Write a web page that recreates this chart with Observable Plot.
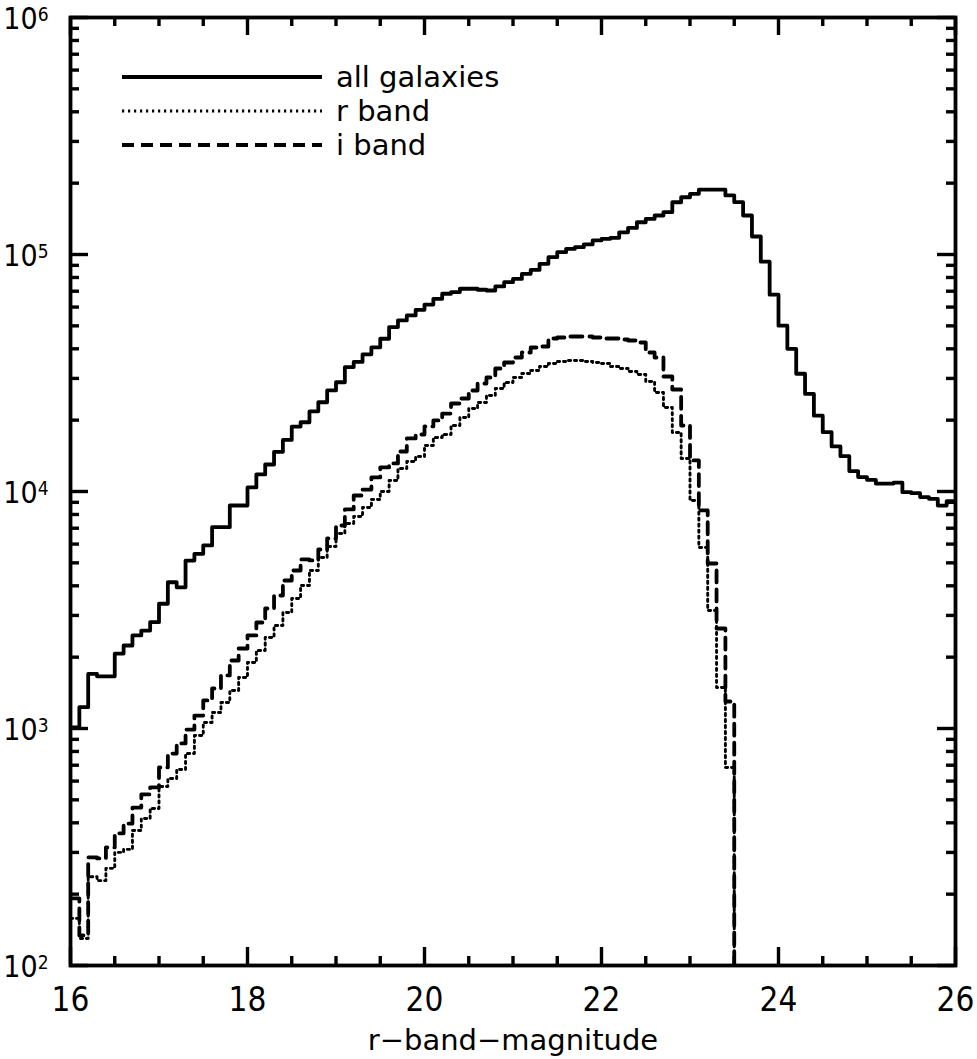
<!DOCTYPE html>
<html>
<head>
<meta charset="utf-8">
<script src="https://cdn.jsdelivr.net/npm/d3@7"></script>
<script src="https://cdn.jsdelivr.net/npm/@observablehq/plot@0.6"></script>
<style>
  html, body { margin: 0; padding: 0; background: #fff; }
  #chart svg { display: block; }
</style>
</head>
<body>
<div id="chart"></div>
<script>
// Galaxy counts per 0.1 mag bin, starting at r = 16.0
const binStart = 16.0;
const binWidth = 0.1;

const allGalaxies = [
  1010, 1230, 1700, 1660, 1660, 2070, 2240, 2470, 2590, 2810,
  3360, 4140, 3940, 5110, 5460, 5920, 7070, 7070, 8730, 8730,
  10400, 11800, 13000, 14700, 16500, 18800, 19600, 21800, 23800, 26700,
  28900, 33500, 35200, 37900, 40600, 44100, 49400, 52700, 55300, 58400,
  61500, 65000, 68300, 69400, 71700, 71700, 71000, 70500, 73300, 76400,
  78900, 82900, 86100, 91300, 97400, 102300, 105700, 107400, 110300, 114600,
  116500, 117600, 124100, 129500, 136800, 141300, 146100, 150900, 166100, 174400,
  180300, 188000, 188000, 188000, 177500, 166300, 146100, 119100, 93300, 67700,
  50100, 40000, 31400, 25800, 20900, 17800, 15500, 14100, 12200, 11500,
  11200, 10800, 10800, 10900, 9930, 9840, 9470, 9310, 8720, 9100
];

const rBand = [
  158, 130, 237, 228, 257, 300, 309, 371, 417, 460,
  569, 615, 671, 784, 934, 1060, 1168, 1288, 1447, 1642,
  1899, 2134, 2421, 2720, 3087, 3536, 4012, 4642, 5267, 5861,
  6648, 7328, 7843, 8561, 9252, 10000, 11130, 12500, 13380, 14050,
  15640, 16900, 17400, 18990, 20520, 22400, 23740, 25420, 27200, 28840,
  30270, 31480, 32400, 33690, 34680, 35360, 35710, 35710, 35360, 35020,
  34680, 33690, 33040, 32090, 31170, 29120, 26170, 22620, 17740, 13780,
  9162, 5805, 3147, 1489, 685
];

const iBand = [
  192, 134, 286, 283, 315, 361, 397, 464, 527, 564,
  685, 784, 865, 990, 1134, 1313, 1475, 1674, 1936, 2176,
  2469, 2801, 3209, 3641, 4212, 4642, 5167, 5117, 5693, 6335,
  7187, 8399, 9618, 10190, 11460, 12630, 13130, 14750, 16740, 17400,
  18810, 19940, 21330, 23510, 24680, 26680, 28550, 30270, 33040, 35020,
  36760, 38590, 40510, 40910, 44220, 44650, 45080, 45080, 45080, 44650,
  44220, 44220, 43790, 43360, 42530, 38590, 36760, 30570, 26940, 18990,
  13520, 8317, 4969, 2642, 1300
];

const xTicks = [16, 18, 20, 22, 24, 26];
const xMinorTicks = d3.range(16.5, 26, 0.5).filter(v => v % 2 !== 0);
const yTicks = [1e2, 1e3, 1e4, 1e5, 1e6];
const yMinorTicks = [1e2, 1e3, 1e4, 1e5].flatMap(d => d3.range(2, 10).map(k => k * d));
const legendLabels = ["all galaxies", "r band", "i band"];
const xLabel = "r\u2212band\u2212magnitude";

// Empty bins past the magnitude cut fall below the frame (log scale has no zero)
const belowFrame = 1;

// Turn per-bin counts into step vertices: one point per left bin edge,
// plus a closing point on the right edge of the last bin.
function steps(counts, closeValue) {
  const pts = counts.map((n, k) => ({m: +(binStart + k * binWidth).toFixed(2), n}));
  const end = +(binStart + counts.length * binWidth).toFixed(2);
  pts.push({m: end, n: closeValue === undefined ? counts[counts.length - 1] : closeValue});
  return pts;
}

const allData = steps(allGalaxies);
const rData = steps(rBand, belowFrame);
const iData = steps(iBand, belowFrame);

const W = 977, H = 1059;
const mL = 70, mR = 22, mT = 17, mB = 94;
const innerW = W - mL - mR, innerH = H - mT - mB;
const majorLen = 18, minorLen = 9, tickW = 3.4;

const solidStyle = {strokeWidth: 3.8, dash: null};
const dottedStyle = {strokeWidth: 2.9, dash: "2.2,3.8"};
const dashedStyle = {strokeWidth: 3.8, dash: "12,7"};
const tickFont = "'Liberation Sans Narrow', 'DejaVu Sans Condensed', 'DejaVu Sans', sans-serif";

const chart = Plot.plot({
  width: W,
  height: H,
  marginLeft: mL,
  marginRight: mR,
  marginTop: mT,
  marginBottom: mB,
  style: {fontFamily: "'DejaVu Sans', sans-serif", background: "#fff", color: "#000", overflow: "visible"},
  x: {domain: [16, 26]},
  y: {type: "log", domain: [1e2, 1e6]},
  marks: [
    Plot.line(allData, {x: "m", y: "n", curve: "step-after", stroke: "#000", strokeWidth: solidStyle.strokeWidth, clip: true}),
    Plot.line(rData, {x: "m", y: "n", curve: "step-after", stroke: "#000", strokeWidth: dottedStyle.strokeWidth, strokeDasharray: dottedStyle.dash, clip: true}),
    Plot.line(iData, {x: "m", y: "n", curve: "step-after", stroke: "#000", strokeWidth: dashedStyle.strokeWidth, strokeDasharray: dashedStyle.dash, clip: true}),

    // inward ticks on all four sides
    Plot.tickX(xTicks, {x: d => d, insetTop: innerH - majorLen, strokeWidth: tickW}),
    Plot.tickX(xTicks, {x: d => d, insetBottom: innerH - majorLen, strokeWidth: tickW}),
    Plot.tickX(xMinorTicks, {x: d => d, insetTop: innerH - minorLen, strokeWidth: tickW}),
    Plot.tickX(xMinorTicks, {x: d => d, insetBottom: innerH - minorLen, strokeWidth: tickW}),
    Plot.tickY(yTicks, {y: d => d, insetRight: innerW - majorLen, strokeWidth: tickW}),
    Plot.tickY(yTicks, {y: d => d, insetLeft: innerW - majorLen, strokeWidth: tickW}),
    Plot.tickY(yMinorTicks, {y: d => d, insetRight: innerW - minorLen, strokeWidth: tickW}),
    Plot.tickY(yMinorTicks, {y: d => d, insetLeft: innerW - minorLen, strokeWidth: tickW}),

    Plot.frame({stroke: "#000", strokeWidth: 3.8}),

    Plot.axisX(xTicks, {tickSize: 0, tickPadding: 22, fontSize: 33, label: null, fontFamily: tickFont}),
    Plot.axisY(yTicks, {tickSize: 0, tickPadding: 22, fontSize: 30, label: null, dy: 2,
      tickFormat: d => "10^" + Math.round(Math.log10(d)), fontFamily: tickFont}),

    Plot.text([xLabel], {frameAnchor: "bottom", dy: 84, fontSize: 29, fill: "#000"})
  ]
});

const svg = d3.select(chart.tagName.toLowerCase() === "svg" ? chart : chart.querySelector("svg"));

// Powers of ten with a raised exponent
svg.selectAll('g[aria-label="y-axis tick label"] text').each(function () {
  const t = d3.select(this);
  const [base, exp] = t.text().split("^");
  t.text(base);
  t.append("tspan").attr("dy", "-0.45em").attr("font-size", 19).text(exp);
});

// Line-style key in the upper left of the frame
const key = svg.append("g")
  .attr("font-family", "'DejaVu Sans', sans-serif")
  .attr("font-size", 29)
  .attr("text-anchor", "start");
[solidStyle, dottedStyle, dashedStyle].forEach((s, k) => {
  const y = 77 + k * 34;
  key.append("line")
    .attr("x1", 122).attr("x2", 322).attr("y1", y).attr("y2", y)
    .attr("stroke", "#000").attr("stroke-width", s.strokeWidth)
    .attr("stroke-dasharray", s.dash);
  key.append("text")
    .attr("x", 336).attr("y", y).attr("dy", "0.35em")
    .attr("fill", "#000").text(legendLabels[k]);
});

document.getElementById("chart").appendChild(chart);
</script>
</body>
</html>
